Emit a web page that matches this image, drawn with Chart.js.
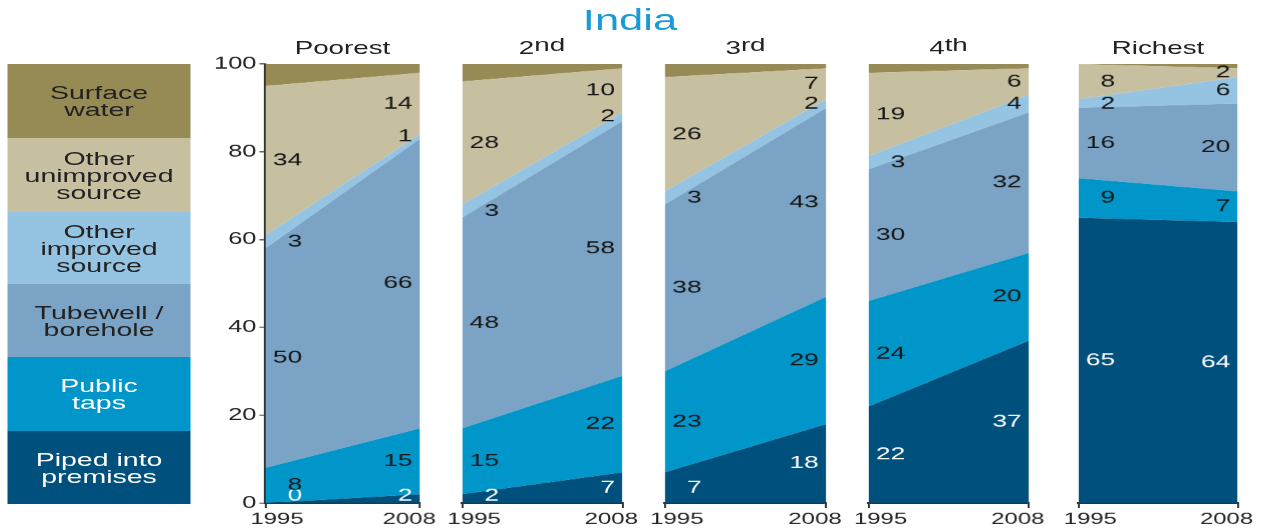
<!DOCTYPE html>
<html>
<head>
<meta charset="utf-8">
<script src="https://cdn.jsdelivr.net/npm/chart.js@4.4.1/dist/chart.umd.min.js"></script>
<style>
  html, body { margin: 0; padding: 0; background: #fff; overflow: hidden; }
  body { width: 1273px; height: 531px; position: relative; }
  /* everything is laid out at 1/1.5 width and stretched, like the wide lettering of the original */
  #stage { position: absolute; left: 0; top: 0; width: 849px; height: 531px;
           transform: scaleX(1.5); transform-origin: 0 0;
           font-family: "Liberation Sans", Arial, sans-serif; color: #222; }
  #title { position: absolute; left: 320px; width: 200px; top: 6px; text-align: center;
           font-size: 29px; line-height: 29px; color: #1a9ad6; }
  .panel-title { position: absolute; top: 39px; width: 120px; text-align: center;
                 font-size: 18.5px; line-height: 18px; }
  .panel-title span { position: relative; top: -3px; }
  .key { position: absolute; left: 4.7px; width: 122.7px; display: flex; align-items: center;
         justify-content: center; text-align: center; font-size: 19px; line-height: 17px; }
  .panel { position: absolute; }
</style>
</head>
<body>
<div id="stage">
  <div id="title">India</div>

  <div class="key" style="top:64px;height:74px;background:#968a55;">Surface<br>water</div>
  <div class="key" style="top:138px;height:74px;background:#c6bfa0;">Other<br>unimproved<br>source</div>
  <div class="key" style="top:212px;height:72px;background:#94c4e2;">Other<br>improved<br>source</div>
  <div class="key" style="top:284px;height:73px;background:#7aa3c5;">Tubewell /<br>borehole</div>
  <div class="key" style="top:357px;height:74px;background:#0096c9;color:#fff;">Public<br>taps</div>
  <div class="key" style="top:431px;height:73px;background:#00507d;color:#fff;">Piped into<br>premises</div>
</div>

<script>
// x categories and panels
const years = ['1995', '2008'];
const quintiles = ['Poorest', '2nd', '3rd', '4th', 'Richest'];
const sourceNames = ['Piped into premises', 'Public taps', 'Tubewell / borehole',
                     'Other improved source', 'Other unimproved source', 'Surface water'];

// % of population, one [1995, 2008] pair per quintile (Poorest .. Richest)
const piped           = [[0, 2],   [2, 7],   [7, 18],  [22, 37], [65, 64]];
const publicTaps      = [[8, 15],  [15, 22], [23, 29], [24, 20], [9, 7]];
const tubewell        = [[50, 66], [48, 58], [38, 43], [30, 32], [16, 20]];
const otherImproved   = [[3, 1],   [3, 2],   [3, 2],   [3, 4],   [2, 6]];
const otherUnimproved = [[34, 14], [28, 10], [26, 7],  [19, 6],  [8, 2]];
const surfaceWater    = [[5, 2],   [4, 1],   [3, 1],   [2, 1],   [0, 1]];

const series = [piped, publicTaps, tubewell, otherImproved, otherUnimproved, surfaceWater];
const colors = ['#00507d', '#0096c9', '#7aa3c5', '#94c4e2', '#c6bfa0', '#968a55'];

// plot area edges in page pixels
const SX = 1.5;
const plotLeft = [265, 462, 665, 868, 1078];
const plotRight = [420, 622, 826, 1029, 1238];
const plotTop = 64, plotBottom = 503;
const padTop = 14, tickAxisH = 6, yearAxisH = 21;
// year labels sit a little inside the panel edges (fraction of panel width)
const yearLabelPos = [0.075, 0.93];

Chart.defaults.font.family = '"Liberation Sans", Arial, sans-serif';
Chart.defaults.color = '#222';

// value labels in the middle of each band, left column right-aligned near 1995, right column near 2008
const bandLabels = {
    id: 'bandLabels',
    afterDatasetsDraw(chart) {
        const ctx = chart.ctx;
        const area = chart.chartArea;
        const yScale = chart.scales.y;
        ctx.save();
        ctx.font = '17.5px "Liberation Sans", Arial, sans-serif';
        ctx.textAlign = 'right';
        ctx.textBaseline = 'middle';
        for (let s = 0; s < 5; s++) {
            const meta = chart.getDatasetMeta(s);
            const below = s > 0 ? chart.getDatasetMeta(s - 1) : null;
            meta.data.forEach((pt, i) => {
                const base = below ? below.data[i].y : yScale.getPixelForValue(0);
                let y = (pt.y + base) / 2;
                y = Math.min(y, area.bottom - 7);
                const x = i === 0 ? area.left + 24.5 : area.right - 5;
                ctx.fillStyle = s === 0 ? '#fff' : '#151515';
                ctx.fillText(String(chart.data.datasets[s].data[i]), x, y);
            });
        }
        ctx.restore();
    }
};

function createPanel(q) {
    const stage = document.getElementById('stage');
    const withAxis = q === 0;
    const padL = withAxis ? 5 : 25;
    const axisW = withAxis ? 40 : 0;
    const padR = 25;
    const innerW = (plotRight[q] - plotLeft[q]) / SX;
    const left = plotLeft[q] / SX - padL - axisW;
    const width = padL + axisW + innerW + padR;
    const height = padTop + (plotBottom - plotTop) + tickAxisH + yearAxisH;

    const title = document.createElement('div');
    title.className = 'panel-title';
    const mid = (plotLeft[q] + plotRight[q]) / 2 / SX;
    title.style.left = (mid - 60) + 'px';
    const name = quintiles[q];
    const m = name.match(/^(\d)(\w+)$/);
    if (m) {
        title.innerHTML = m[1] + '<span>' + m[2] + '</span>';
    } else {
        title.textContent = name;
    }
    stage.appendChild(title);

    const box = document.createElement('div');
    box.className = 'panel';
    box.style.left = left + 'px';
    box.style.top = (plotTop - padTop) + 'px';
    box.style.width = width + 'px';
    box.style.height = height + 'px';
    const canvas = document.createElement('canvas');
    box.appendChild(canvas);
    stage.appendChild(box);

    return new Chart(canvas, {
        type: 'line',
        data: {
            labels: years,
            datasets: series.map((arr, s) => ({
                label: sourceNames[s],
                data: arr[q],
                xAxisID: 'x',
                yAxisID: 'y',
                backgroundColor: colors[s],
                borderColor: colors[s],
                borderWidth: 0,
                pointRadius: 0,
                tension: 0,
                fill: s === 0 ? 'origin' : '-1'
            }))
        },
        options: {
            responsive: true,
            maintainAspectRatio: false,
            devicePixelRatio: 1.5,
            animation: false,
            layout: { padding: { left: padL, right: padR, top: padTop, bottom: 0 } },
            plugins: {
                legend: { display: false },
                tooltip: { enabled: false },
                title: { display: false }
            },
            scales: {
                x: {
                    type: 'category',
                    offset: false,
                    weight: 0,
                    grid: { drawOnChartArea: false, drawTicks: true, tickLength: 5, color: '#333', lineWidth: 1.3 },
                    border: { display: true, color: '#333', width: 2 },
                    ticks: { display: false },
                    afterFit: (scale) => { scale.height = tickAxisH; }
                },
                y: {
                    display: withAxis,
                    stacked: true,
                    min: 0,
                    max: 100,
                    ticks: { stepSize: 20, font: { size: 17 }, padding: 2 },
                    grid: { drawOnChartArea: false, tickLength: 4, color: '#333', lineWidth: 1 },
                    border: { display: true, color: '#333', width: 1.5 },
                    afterFit: (scale) => { scale.width = axisW; }
                },
                years: {
                    type: 'linear',
                    position: 'bottom',
                    weight: 1,
                    min: 0,
                    max: 1,
                    grid: { display: false, drawTicks: false },
                    border: { display: false },
                    afterBuildTicks: (scale) => {
                        scale.ticks = yearLabelPos.map(v => ({ value: v }));
                    },
                    ticks: {
                        font: { size: 16 },
                        padding: 1,
                        maxRotation: 0,
                        autoSkip: false,
                        callback: (value, index) => years[index]
                    },
                    afterFit: (scale) => { scale.height = yearAxisH; }
                }
            }
        },
        plugins: [bandLabels]
    });
}

quintiles.forEach((name, q) => createPanel(q));
</script>
</body>
</html>
